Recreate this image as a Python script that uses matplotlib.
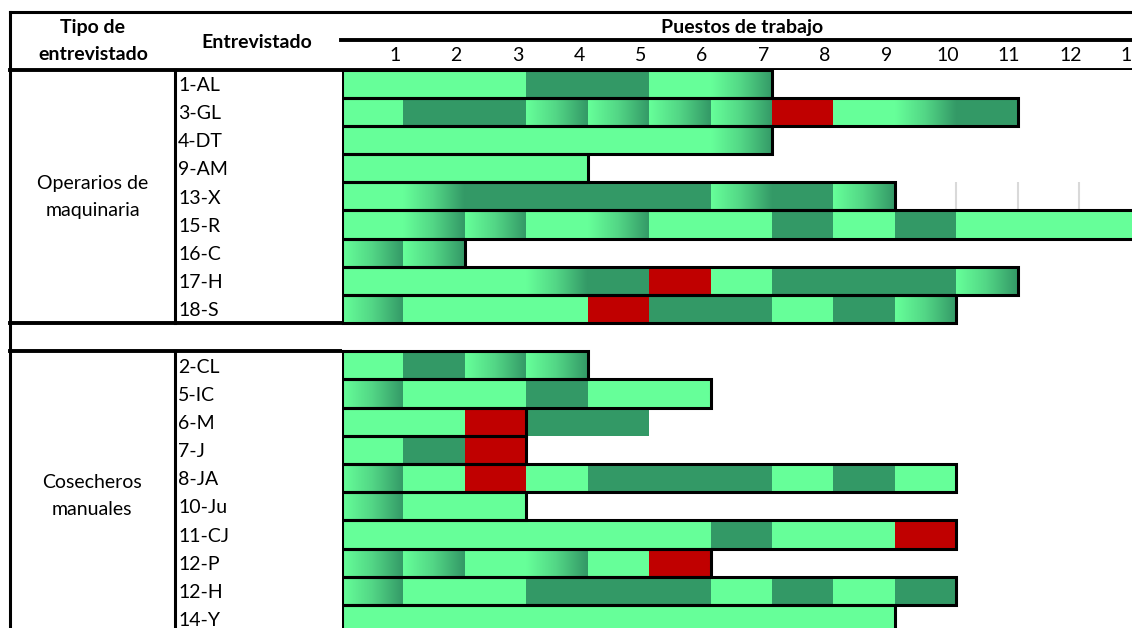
import numpy as np
import matplotlib.pyplot as plt
from matplotlib.colors import LinearSegmentedColormap
from matplotlib.transforms import blended_transform_factory

# cada letra = un puesto de trabajo
# L = verde claro, D = verde oscuro, R = rojo, G = degradado
operarios = ['1-AL', '3-GL', '4-DT', '9-AM', '13-X', '15-R', '16-C', '17-H', '18-S']
operarios_puestos = ['LLLDDLG', 'LDDGGGGRLGD', 'LLLLLLG', 'LLLL', 'LGDDDDGDG',
                     'LGGLGLLDLDLLL', 'GG', 'LLLGDRLDDDG', 'GLLLRDDLDG']
operarios_borde = [7, 11, 7, 4, 9, 13, 2, 11, 10]

cosecheros = ['2-CL', '5-IC', '6-M', '7-J', '8-JA', '10-Ju', '11-CJ', '12-P', '12-H', '14-Y']
cosecheros_puestos = ['LDGG', 'GLLDLL', 'LLRDD', 'LDR', 'GLRLDDDLDL', 'GLL',
                      'LLLLLLDLLR', 'GGLGLR', 'GLLDDDLDLD', 'LLLLLLLLL']
cosecheros_borde = [4, 6, 3, 3, 10, 3, 10, 6, 10, 9]

puestos = list(range(1, 14))

claro = '#66FF99'
oscuro = '#339966'
colores = {'L': claro, 'D': oscuro, 'R': '#C00000'}
degradado = LinearSegmentedColormap.from_list('deg', [claro, '#52D585', oscuro])

plt.rcParams['font.family'] = ['Lato', 'DejaVu Sans']
fs = 14

W, H = 1132, 628
fig = plt.figure(figsize=(W / 100, H / 100), dpi=100)

# fondo en pixeles para la tabla
bg = fig.add_axes([0, 0, 1, 1])
bg.set_xlim(0, W)
bg.set_ylim(H, 0)
bg.axis('off')

x0, celda = 342, 61.5
arriba, fila = 69.5, 28.18
ax = fig.add_axes([x0 / W, 0, (W - x0) / W, (H - arriba) / H])

nombres = operarios + [''] + cosecheros
codigos = operarios_puestos + [''] + cosecheros_puestos
bordes = operarios_borde + [0] + cosecheros_borde

grad = np.linspace(0, 1, 64).reshape(1, -1)
for i, (cod, b) in enumerate(zip(codigos, bordes)):
    for j, c in enumerate(cod):
        if c == 'G':
            ax.imshow(grad, cmap=degradado, extent=(j, j + 1, i + 0.5, i - 0.5),
                      aspect='auto', interpolation='bilinear', zorder=1)
        else:
            ax.barh(i, 1, left=j, height=1, color=colores[c], linewidth=0, zorder=1)
    if b:
        ax.barh(i, b, left=0, height=1, fill=False, edgecolor='black',
                linewidth=2.2, zorder=3)

# lineas grises sueltas en la fila 13-X
ax.vlines([10, 11, 12], 3.5, 4.5, color='#D9D9D9', lw=1.5, zorder=0)

ax.set_xlim(0, (W - x0) / celda)
ax.set_ylim(-0.5 + (H - arriba) / fila, -0.5)
ax.xaxis.tick_top()
ax.set_xticks(np.array(puestos) - 0.14, [str(p) for p in puestos])
ax.tick_params(axis='x', length=0, pad=4, labelsize=fs)
ax.set_yticks([])
for s in ax.spines.values():
    s.set_visible(False)

# tabla
mix = blended_transform_factory(bg.transData, ax.transData)
lw = 2.2
sep = len(operarios)
bg.plot([10, W], [12, 12], color='black', lw=lw)
bg.plot([10, 10], [12, H], color='black', lw=lw)
bg.plot([10, W], [arriba, arriba], color='black', lw=lw + 0.6)
bg.plot([x0 - 1, W], [40, 40], color='black', lw=lw + 0.6)
bg.plot([10, W], [arriba + fila * sep, arriba + fila * sep], color='black', lw=lw + 0.6)
bg.plot([10, W], [arriba + fila * (sep + 1), arriba + fila * (sep + 1)], color='black', lw=lw + 0.6)
bg.plot([175, 175], [arriba, arriba + fila * sep], color='black', lw=lw)
bg.plot([175, 175], [arriba + fila * (sep + 1), H], color='black', lw=lw)

for i, n in enumerate(nombres):
    if not n:
        continue
    ax.hlines([i - 0.5, i + 0.5], 175, x0, transform=mix, color='black', lw=lw)
    ax.text(178, i + 0.06, n, transform=mix, ha='left', va='center', fontsize=fs)

bg.text(93, 41, 'Tipo de\nentrevistado', ha='center', va='center', fontsize=fs,
        fontweight='bold', linespacing=1.65)
bg.text(257, 43, 'Entrevistado', ha='center', va='center', fontsize=fs, fontweight='bold')
bg.text(742, 28, 'Puestos de trabajo', ha='center', va='center', fontsize=fs, fontweight='bold')
bg.text(93, 197, 'Operarios de\nmaquinaria', ha='center', va='center', fontsize=fs,
        linespacing=1.65)
bg.text(92, 496, 'Cosecheros\nmanuales', ha='center', va='center', fontsize=fs,
        linespacing=1.65)

fig.savefig('out.png', dpi=100)
